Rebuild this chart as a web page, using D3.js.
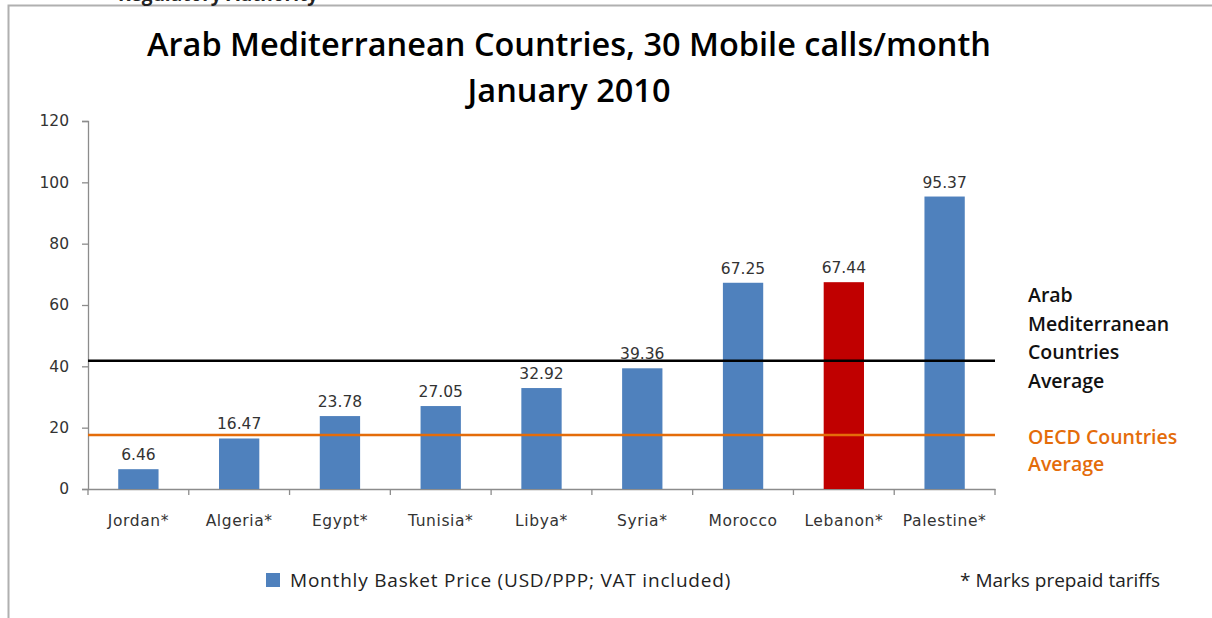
<!DOCTYPE html>
<html><head><meta charset="utf-8">
<script src="https://cdn.jsdelivr.net/npm/d3@7"></script>
<style>body{margin:0;background:#fff}svg{display:block}</style>
</head><body>
<svg id="c" width="1212" height="618"></svg>
<script>
const categories = ["Jordan*","Algeria*","Egypt*","Tunisia*","Libya*","Syria*","Morocco","Lebanon*","Palestine*"];
const values = [6.46,16.47,23.78,27.05,32.92,39.36,67.25,67.44,95.37];
const highlighted = ["Lebanon*"];
const yTicks = [0,20,40,60,80,100,120];
const arabAverage = d3.mean(values);
const oecdAverage = 17.6;
const titleLines = ["Arab Mediterranean Countries, 30 Mobile calls/month","January 2010"];
const arabLabel = ["Arab","Mediterranean","Countries","Average"];
const oecdLabel = ["OECD Countries","Average"];
const legendText = "Monthly Basket Price (USD/PPP; VAT included)";
const noteText = "* Marks prepaid tariffs";

const svg = d3.select("#c");
const blue = "#4F81BD", red = "#C00000", orange = "#E46C0A", axisCol = "#8c8c8c";

// frame
svg.append("path").attr("d","M8.5,618 V5.5 H1212").attr("fill","none").attr("stroke","#b0b0b0").attr("stroke-width",2);
// cut-off header text (partly outside the picture, as in the reference)
svg.append("text").attr("x",218).attr("y",1).attr("text-anchor","middle")
  .attr("font-family","Open Sans, sans-serif").attr("font-weight","bold").attr("font-size",19)
  .attr("fill","#222").text("Regulatory Authority");

const x = d3.scaleBand().domain(categories).range([88,995]).paddingInner(0.6).paddingOuter(0.3);
const y = d3.scaleLinear().domain([0,120]).range([489,121]);

// title
svg.append("g").selectAll("text").data(titleLines).join("text")
  .attr("x",569).attr("y",(d,i)=>56+i*46).attr("text-anchor","middle")
  .attr("font-family","Open Sans, sans-serif").attr("font-weight","600").attr("font-size",32.5)
  .attr("fill","#000").text(d=>d);

// y axis
const yAxis = svg.append("g").attr("transform","translate(88,0)")
  .call(d3.axisLeft(y).tickValues(yTicks).tickSize(6).tickPadding(13));
yAxis.selectAll("path,line").attr("stroke",axisCol).attr("stroke-width",1.3);
yAxis.selectAll("text").attr("font-family","DejaVu Sans, sans-serif").attr("font-size",15.5).attr("fill","#333");

// x axis
const xAxis = svg.append("g").attr("transform","translate(0,489)")
  .call(d3.axisBottom(x).tickSize(0).tickPadding(26));
xAxis.select("path").attr("stroke",axisCol).attr("stroke-width",1.3);
xAxis.selectAll("text").attr("font-family","DejaVu Sans, sans-serif").attr("font-size",15.5)
  .attr("letter-spacing",0.6).attr("fill","#333");
const step = x.step();
const bounds = d3.range(categories.length+1).map(i => x.range()[0] + i*step);
svg.append("g").selectAll("line").data(bounds).join("line")
  .attr("x1",d=>d).attr("x2",d=>d).attr("y1",489).attr("y2",495)
  .attr("stroke",axisCol).attr("stroke-width",1.3);

// bars
svg.append("g").selectAll("rect").data(categories).join("rect")
  .attr("x",d=>x(d)).attr("width",x.bandwidth())
  .attr("y",(d,i)=>y(values[i])).attr("height",(d,i)=>y(0)-y(values[i]))
  .attr("fill",d=>highlighted.includes(d)?red:blue);

// value labels
svg.append("g").selectAll("text").data(categories).join("text")
  .attr("x",d=>x(d)+x.bandwidth()/2).attr("y",(d,i)=>y(values[i])-9)
  .attr("text-anchor","middle").attr("font-family","DejaVu Sans, sans-serif").attr("font-size",15.5).attr("fill","#333")
  .text((d,i)=>values[i].toFixed(2));

// average lines
svg.append("line").attr("x1",88).attr("x2",995).attr("y1",y(arabAverage)).attr("y2",y(arabAverage))
  .attr("stroke","#000").attr("stroke-width",2.5);
svg.append("line").attr("x1",88).attr("x2",995).attr("y1",y(oecdAverage)).attr("y2",y(oecdAverage))
  .attr("stroke",orange).attr("stroke-width",2.5);

// side labels
svg.append("g").selectAll("text").data(arabLabel).join("text")
  .attr("x",1028).attr("y",(d,i)=>302+i*28.5)
  .attr("font-family","Open Sans, sans-serif").attr("font-weight","600").attr("font-size",19.5).attr("fill","#111").text(d=>d);
svg.append("g").selectAll("text").data(oecdLabel).join("text")
  .attr("x",1028).attr("y",(d,i)=>444+i*27)
  .attr("font-family","Open Sans, sans-serif").attr("font-weight","600").attr("font-size",19.5).attr("fill",orange).text(d=>d);

// legend
svg.append("rect").attr("x",266).attr("y",573).attr("width",14).attr("height",14).attr("fill",blue);
svg.append("text").attr("x",290).attr("y",587).attr("font-family","Open Sans, sans-serif").attr("font-size",19)
  .attr("letter-spacing",0.8).attr("fill","#222").text(legendText);
svg.append("text").attr("x",960).attr("y",587).attr("font-family","Open Sans, sans-serif").attr("font-size",19)
  .attr("fill","#222").text(noteText);
</script>
</body></html>
